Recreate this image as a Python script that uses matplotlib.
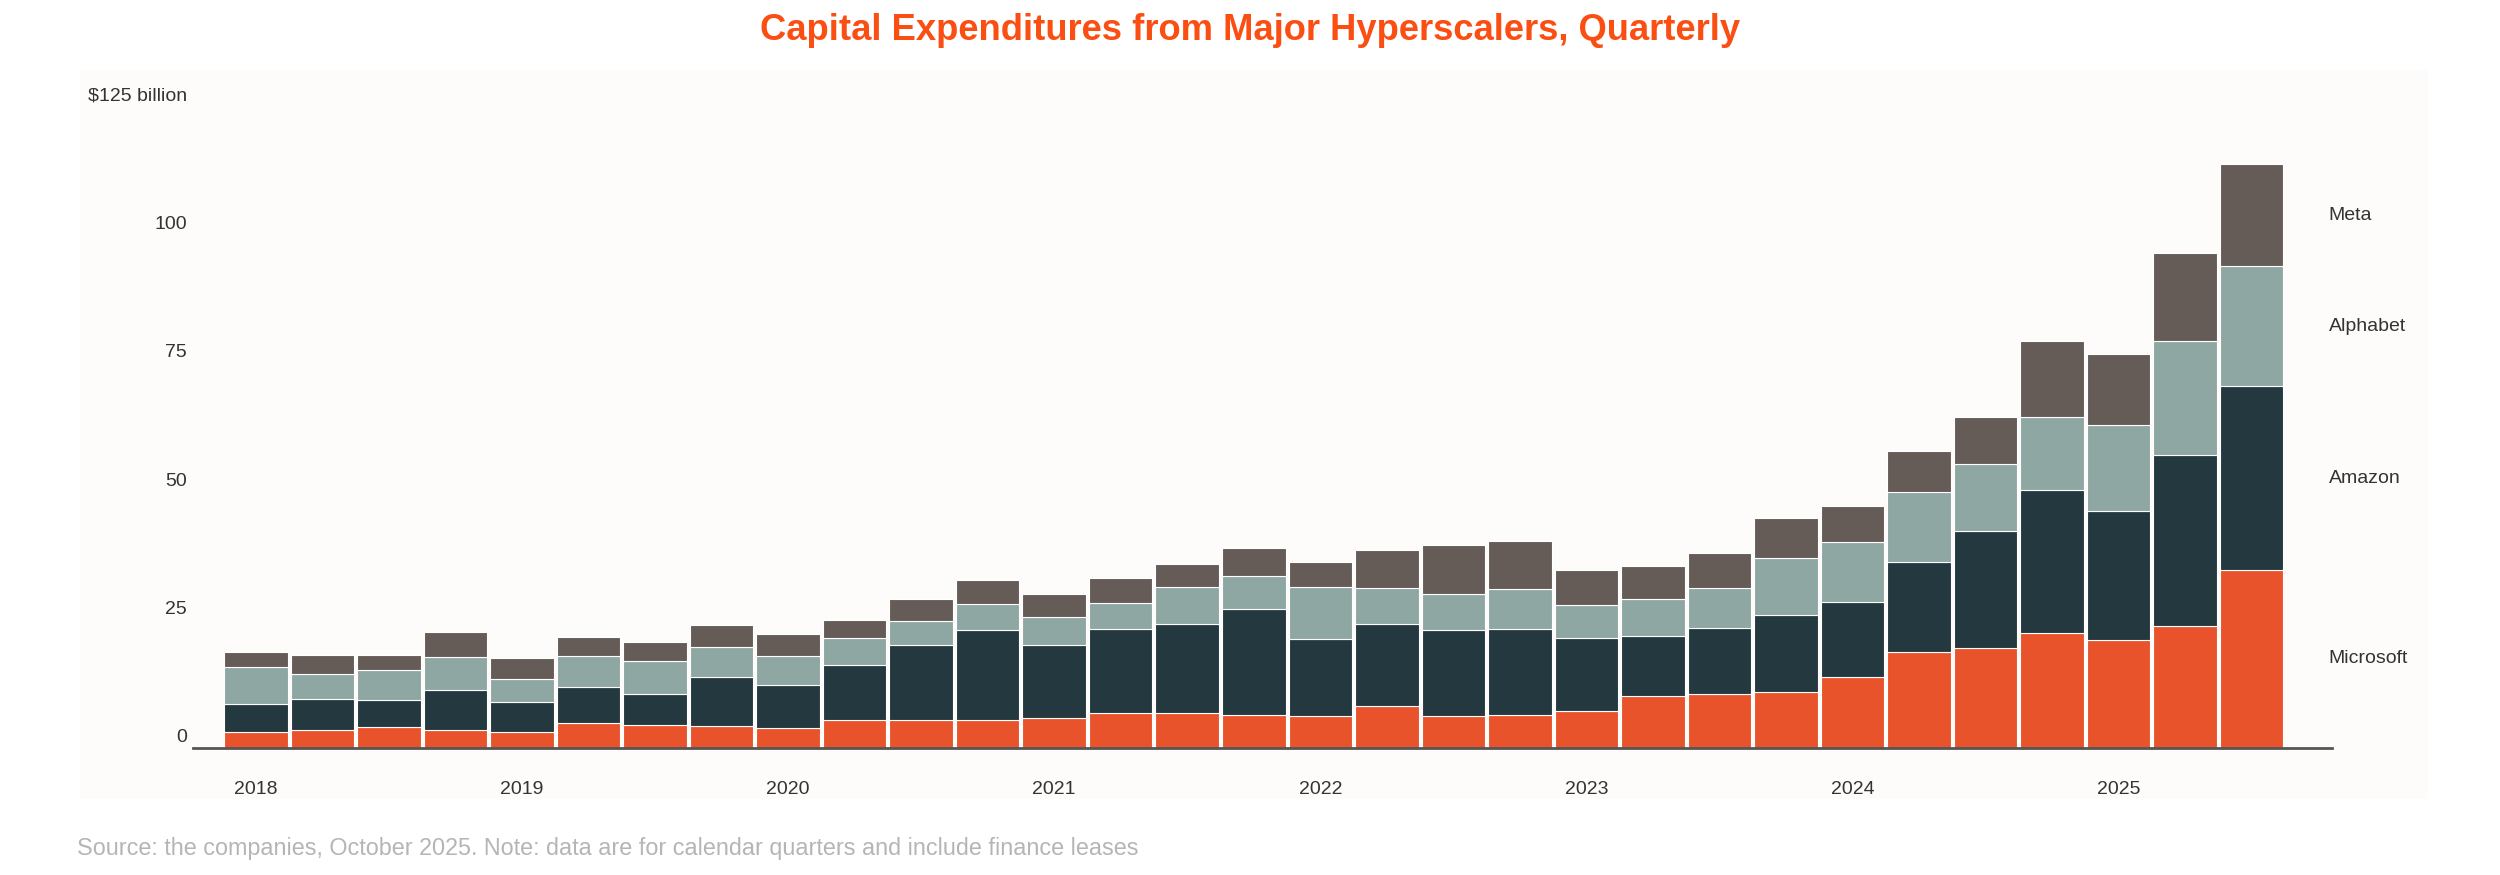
import numpy as np
import matplotlib.pyplot as plt
from matplotlib.patches import Rectangle
import matplotlib.transforms as mtransforms

plt.rcParams['font.family'] = ['Liberation Sans', 'DejaVu Sans']

# quarterly capex, $ billion, 2018 Q1 .. 2025 Q3
quarters = [f"{y}Q{q}" for y in range(2018, 2026) for q in range(1, 5)][:31]
microsoft = [3.1, 3.6, 4.0, 3.6, 3.05, 4.8, 4.5, 4.3,
             3.8, 5.5, 5.4, 5.4, 5.8, 6.9, 6.9, 6.4,
             6.2, 8.1, 6.2, 6.5, 7.3, 10.1, 10.6, 11.0,
             13.8, 18.7, 19.5, 22.3, 21.0, 23.7, 34.7]
amazon = [5.5, 6.0, 5.4, 7.6, 5.95, 7.1, 6.0, 9.6,
          8.5, 10.6, 14.6, 17.5, 14.2, 16.2, 17.3, 20.6,
          15.0, 16.1, 16.7, 16.7, 14.2, 11.7, 12.8, 14.9,
          14.7, 17.5, 22.8, 28.0, 25.1, 33.3, 35.7]
alphabet = [7.1, 4.9, 5.7, 6.6, 4.4, 6.0, 6.4, 5.7,
            5.7, 5.3, 4.7, 5.1, 5.6, 5.2, 7.1, 6.4,
            10.2, 6.9, 7.0, 7.8, 6.4, 7.3, 7.8, 11.1,
            11.6, 13.7, 12.9, 14.1, 16.7, 22.3, 23.4]
meta = [2.9, 3.7, 3.1, 4.7, 4.2, 3.7, 3.7, 4.3,
        4.1, 3.5, 4.4, 4.8, 4.3, 4.8, 4.6, 5.5,
        4.9, 7.5, 9.6, 9.3, 6.8, 6.4, 6.8, 7.7,
        7.0, 8.0, 9.3, 14.9, 14.0, 17.1, 19.9]

series = [("Microsoft", microsoft, "#e8532b"),
          ("Amazon", amazon, "#23383f"),
          ("Alphabet", alphabet, "#8fa7a2"),
          ("Meta", meta, "#655b57")]

y_ticks = [0, 25, 50, 75, 100, 125]
y_labels = ["0", "25", "50", "75", "100", "$125 billion"]
years = [str(y) for y in range(2018, 2026)]

W, H = 2500, 875
fig = plt.figure(figsize=(25, 8.75), dpi=100)
fig.patch.set_facecolor("white")

# light panel behind the chart
fig.patches.append(Rectangle((80 / W, 1 - 799 / H), (2428 - 80) / W, (799 - 70) / H,
                             transform=fig.transFigure, facecolor="#fdfcfa",
                             edgecolor="none", zorder=-5))

ax_l, ax_r, ax_b, ax_t = 193, 2332, 748, 106
ax = fig.add_axes([ax_l / W, 1 - ax_b / H, (ax_r - ax_l) / W, (ax_b - ax_t) / H])
ax.set_facecolor("none")
ax.set_zorder(2)

x = np.arange(len(quarters))
bottom = np.zeros(len(quarters))
for name, vals, col in series:
    vals = np.array(vals)
    ax.bar(x, vals, bottom=bottom, width=0.955, color=col,
           edgecolor="white", linewidth=0.8, zorder=2)
    mid = bottom[-1] + vals[-1] / 2
    ax.text(31.16, mid, name, ha="left", va="center", fontsize=14, color="#333333")
    bottom = bottom + vals

ax.set_xlim(-0.947, 31.21)
ax.set_ylim(0, 125)

for s in ["top", "right", "left"]:
    ax.spines[s].set_visible(False)
ax.spines["bottom"].set_color("#555555")
ax.spines["bottom"].set_linewidth(2)
ax.spines["bottom"].set_zorder(3)

ax.set_yticks([])
trans = mtransforms.blended_transform_factory(ax.transAxes, ax.transData)
for v, lab in zip(y_ticks, y_labels):
    ax.text(-6 / (ax_r - ax_l), v + 1.1, lab, transform=trans, ha="right", va="baseline",
            fontsize=14, color="#333333")

ax.set_xticks(x[::4])
ax.set_xticklabels(years, fontsize=14, color="#333333")
ax.tick_params(axis="x", length=0, pad=24)

fig.text(0.5, 1 - 31 / H, "Capital Expenditures from Major Hyperscalers, Quarterly",
         ha="center", va="center", fontsize=26.2, fontweight="bold", color="#fa4e12")
fig.text(77 / W, 1 - 849 / H,
         "Source: the companies, October 2025. Note: data are for calendar quarters and include finance leases",
         ha="left", va="center", fontsize=16.8, color="#b5b5b5")

fig.savefig("out.png", dpi=100)
